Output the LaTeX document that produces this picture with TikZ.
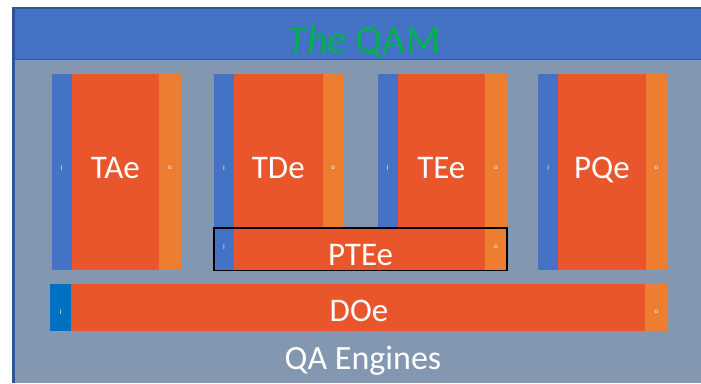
\documentclass[tikz,border=0pt]{standalone}
\usepackage{fontspec}
\setmainfont{Carlito}
\definecolor{framegrey}{HTML}{8497B0}
\definecolor{bandblue}{HTML}{4472C4}
\definecolor{edgeblue}{HTML}{2F5597}
\definecolor{inblue}{HTML}{4472C4}
\definecolor{indeep}{HTML}{0070C0}
\definecolor{corered}{HTML}{E9562C}
\definecolor{outorange}{HTML}{ED7D31}
\definecolor{titlegreen}{HTML}{00B050}
% rectangle node spanning (x1,y1)-(x2,y2), in picture units
\newcommand\blockpart[6]{%
  \node[#2, minimum width={(#5-#3)*1pt}, minimum height={(#6-#4)*1pt}] (#1) at (#3,#4) {};}
\tikzset{
  slab/.style={draw=none, inner sep=0pt, outer sep=0pt, anchor=north west},
  inslab/.style={slab, fill=inblue},
  coreslab/.style={slab, fill=corered},
  outslab/.style={slab, fill=outorange},
  biglabel/.style={text=white, inner sep=0pt, anchor=base, font=\fontsize{33}{33}\selectfont},
  tinylabel/.style={text=white, inner sep=0pt, font=\fontsize{7}{7}\selectfont},
}
\begin{document}
\begin{tikzpicture}[x=1pt, y=-1pt]
\useasboundingbox (0,0) rectangle (701,383);
\fill[white] (0,0) rectangle (701,383);
% outer frame and title band
\fill[framegrey] (12,8) rectangle (701,383);
\fill[bandblue] (12,8) rectangle (701,60);
\draw[edgeblue!80!bandblue, line width=1pt] (12,59.5) -- (701,59.5);
\draw[edgeblue, line width=2pt] (12,8) -- (701,8);
\draw[edgeblue, line width=3pt] (13.5,8) -- (13.5,383);
\node[text=titlegreen, inner sep=0pt, anchor=base, font=\fontsize{40}{40}\selectfont]
  (title) at (364,53) {\itshape The\upshape{} QAM};

% TAe
\blockpart{taein}{inslab}{51.7}{73.7}{71.7}{270}
\blockpart{taecore}{coreslab}{71.7}{73.7}{159}{270}
\blockpart{taeout}{outslab}{159}{73.7}{181}{270}
\node[biglabel] (taelbl) at (115.3,178.3) {TAe};
\node[tinylabel] (taei) at (taein.center |- 0,168) {I};
\node[tinylabel] (taeo) at (taeout.center |- 0,168) {o};

% TDe
\blockpart{tdein}{inslab}{214}{73.7}{234}{228}
\blockpart{tdecore}{coreslab}{234}{73.7}{322.7}{228}
\blockpart{tdeout}{outslab}{322.7}{73.7}{343}{228}
\node[biglabel] (tdelbl) at (278.3,178.3) {TDe};
\node[tinylabel] (tdei) at (tdein.center |- 0,168) {I};
\node[tinylabel] (tdeo) at (tdeout.center |- 0,168) {o};

% TEe
\blockpart{teein}{inslab}{377.7}{73.7}{397.7}{228}
\blockpart{teecore}{coreslab}{397.7}{73.7}{485}{228}
\blockpart{teeout}{outslab}{485}{73.7}{507}{228}
\node[biglabel] (teelbl) at (441.3,178.3) {TEe};
\node[tinylabel] (teei) at (teein.center |- 0,168) {I};
\node[tinylabel] (teeo) at (teeout.center |- 0,168) {o};

% PQe
\blockpart{pqein}{inslab}{538}{73.7}{558.3}{270}
\blockpart{pqecore}{coreslab}{558.3}{73.7}{645.7}{270}
\blockpart{pqeout}{outslab}{645.7}{73.7}{667.3}{270}
\node[biglabel] (pqelbl) at (602,178.3) {PQe};
\node[tinylabel] (pqei) at (pqein.center |- 0,168) {I};
\node[tinylabel] (pqeo) at (pqeout.center |- 0,168) {o};

% PTEe, outlined
\blockpart{pteein}{inslab}{214}{228}{234}{270.7}
\blockpart{pteecore}{coreslab}{234}{228}{485}{270.7}
\blockpart{pteeout}{outslab}{485}{228}{507}{270.7}
\draw[black, line width=1.4pt] (pteein.north west) rectangle (pteeout.south east);
\node[biglabel] (pteelbl) at (360.5,265) {PTEe};
\node[tinylabel] (pteei) at (pteein.center |- 0,247) {I};
\node[tinylabel] (pteeo) at (pteeout.center |- 0,247) {o};

% DOe
\blockpart{doein}{slab, fill=indeep}{50}{283.7}{71}{331.3}
\blockpart{doecore}{coreslab}{71}{283.7}{645}{331.3}
\blockpart{doeout}{outslab}{645}{283.7}{668}{331.3}
\node[biglabel] (doelbl) at (359,321) {DOe};
\node[tinylabel] (doei) at (doein.center |- 0,312) {I};
\node[tinylabel] (doeo) at (doeout.center |- 0,312) {o};

\node[biglabel, font=\fontsize{34}{34}\selectfont] (engines) at (363,369) {QA Engines};
\end{tikzpicture}
\end{document}
